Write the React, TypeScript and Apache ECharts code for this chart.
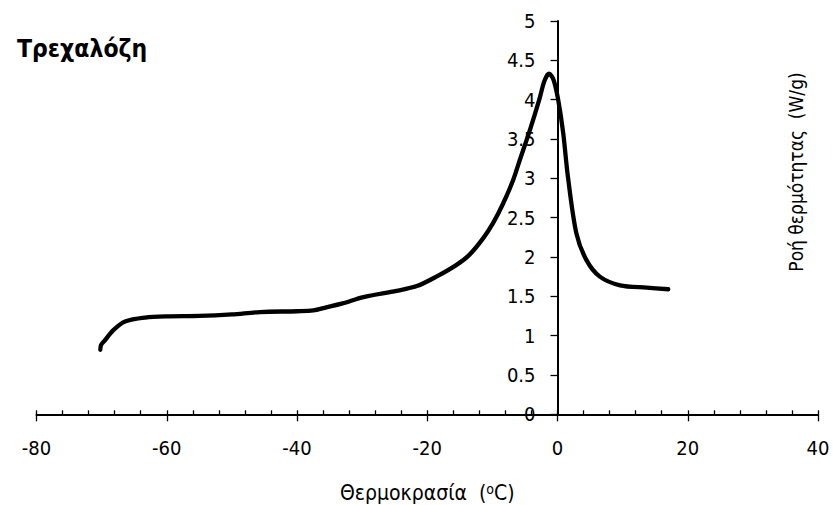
import React, { useEffect, useRef } from "react";
import * as echarts from "echarts";

const temperatures = [
  -70.2, -70.1, -69.6, -68.2, -66.4, -63.3, -60, -55, -50, -45.7, -40, -37.5, -35.5, -33,
  -29.8, -24.7, -21.6, -18.6, -15.5, -13.5, -11.4, -9.9, -8.35, -6.8, -5.8, -4.25, -2.8,
  -2.0, -1.3, -0.6, 0.1, 0.87, 1.6, 2.9, 4.45, 6.5, 9.6, 13.7, 17.0,
];
const heatFlow = [
  0.82, 0.88, 0.93, 1.07, 1.18, 1.23, 1.245, 1.25, 1.27, 1.3, 1.31, 1.32, 1.36, 1.41,
  1.49, 1.57, 1.63, 1.75, 1.9, 2.03, 2.24, 2.43, 2.68, 2.98, 3.23, 3.61, 4.0,
  4.24, 4.33, 4.25, 4.0, 3.58, 3.02, 2.3, 1.96, 1.75, 1.64, 1.61, 1.59,
];

const titleText = "Τρεχαλόζη";
const xNameMain = "Θερμοκρασία  (";
const xNameSup = "o";
const xNameEnd = "C)";
const yName = "Ροή θερμότητας  (W/g)";
const FONT = "'DejaVu Sans Condensed', 'DejaVu Sans'";

const X_MIN = -80;
const X_MAX = 40;
const GRID_LEFT = 36.5;
const GRID_RIGHT = 15;
const WIDTH = 833;

export default function App() {
  const ref = useRef<HTMLDivElement>(null);
  useEffect(() => {
    if (!ref.current) return;
    const chart = echarts.init(ref.current, null, { renderer: "svg" });
    const data = temperatures.map((t, i) => [t, heatFlow[i]]);
    const plotW = WIDTH - GRID_LEFT - GRID_RIGHT;
    const yAxisOffset = -((0 - X_MIN) / (X_MAX - X_MIN)) * plotW;
    chart.setOption({
      animation: false,
      backgroundColor: "#ffffff",
      textStyle: { fontFamily: FONT, color: "#000" },
      title: {
        text: titleText,
        left: 12,
        top: 31,
        textStyle: { fontFamily: FONT, fontWeight: "bold", fontSize: 24.5, color: "#000" },
      },
      grid: {
        left: GRID_LEFT,
        right: GRID_RIGHT,
        top: 21,
        bottom: 90.7,
        containLabel: false,
        outerBoundsMode: "none",
      },
      xAxis: [
        {
          type: "value",
          min: X_MIN,
          max: X_MAX,
          interval: 20,
          position: "bottom",
          name: `{n|${xNameMain}}{s|${xNameSup}}{n|${xNameEnd}}`,
          nameLocation: "middle",
          nameGap: 68,
          nameTextStyle: {
            fontFamily: FONT,
            fontSize: 21,
            color: "#000",
            rich: {
              n: { fontFamily: FONT, fontSize: 21, color: "#000", lineHeight: 22 },
              s: { fontFamily: FONT, fontSize: 14, color: "#000", verticalAlign: "top", lineHeight: 16 },
            },
          },
          axisLine: { show: true, onZero: false, lineStyle: { color: "#000", width: 2 } },
          axisTick: { show: true, inside: false, length: 7, lineStyle: { color: "#000", width: 1.3 } },
          axisLabel: { margin: 24, fontFamily: FONT, fontSize: 20, color: "#000" },
          splitLine: { show: false },
        },
        {
          type: "value",
          min: X_MIN,
          max: X_MAX,
          interval: 20,
          position: "bottom",
          axisLine: { show: false, onZero: false },
          axisTick: { show: true, inside: true, length: 4, lineStyle: { color: "#000", width: 1.3 } },
          minorTick: { show: true, splitNumber: 5, length: 4, lineStyle: { color: "#000", width: 1.3 } },
          axisLabel: { show: false },
          splitLine: { show: false },
        },
      ],
      yAxis: {
        type: "value",
        min: 0,
        max: 5,
        interval: 0.5,
        position: "left",
        offset: yAxisOffset,
        axisLine: { show: true, onZero: false, lineStyle: { color: "#000", width: 2 } },
        axisTick: { show: true, inside: false, length: 7, lineStyle: { color: "#000", width: 1.3 } },
        axisLabel: { margin: 22, fontFamily: FONT, fontSize: 20, color: "#000" },
        splitLine: { show: false },
      },
      graphic: [
        {
          type: "text",
          x: 796,
          y: 172,
          rotation: Math.PI / 2,
          style: {
            text: yName,
            fontFamily: FONT,
            fontSize: 19,
            fill: "#000",
            align: "center",
            verticalAlign: "middle",
          },
        },
      ],
      series: [
        {
          type: "line",
          xAxisIndex: 0,
          data,
          smooth: 0.3,
          showSymbol: false,
          symbol: "none",
          lineStyle: { color: "#000", width: 4.3, cap: "round", join: "round" },
        },
      ],
    });
    return () => chart.dispose();
  }, []);
  return <div ref={ref} style={{ width: 833, height: 505, position: "absolute", left: 0, top: 0 }} />;
}
